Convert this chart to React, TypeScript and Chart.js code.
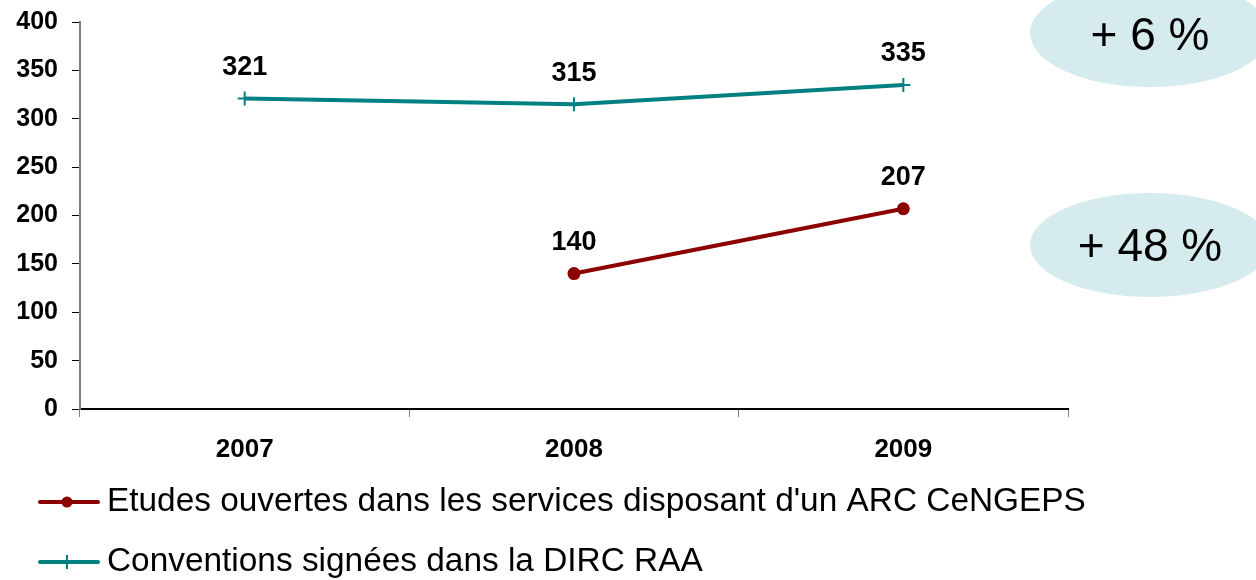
import React, { useEffect, useRef } from "react";
import { Chart, registerables } from "chart.js";

Chart.register(...registerables);

const categories = ["2007", "2008", "2009"];
const etudes: (number | null)[] = [null, 140, 207];
const conventions: number[] = [321, 315, 335];
const seriesNames = [
  "Etudes ouvertes dans les services disposant d'un ARC CeNGEPS",
  "Conventions signées dans la DIRC RAA",
];
const badges = ["+ 6 %", "+ 48 %"];
const yTicks = [0, 50, 100, 150, 200, 250, 300, 350, 400];

const FONT = "'Liberation Sans', Arial, sans-serif";

const labelPlugin = {
  id: "valueLabels",
  afterDatasetsDraw(chart: any) {
    const ctx = chart.ctx;
    ctx.save();
    ctx.font = `bold 27px ${FONT}`;
    ctx.fillStyle = "#000";
    ctx.textAlign = "center";
    ctx.textBaseline = "middle";
    chart.data.datasets.forEach((ds: any, i: number) => {
      const meta = chart.getDatasetMeta(i);
      meta.data.forEach((pt: any, j: number) => {
        const v = ds.data[j];
        if (v == null) return;
        ctx.fillText(String(v), pt.x, pt.y - 31);
      });
    });
    ctx.restore();
  },
};

const extrasPlugin = {
  id: "extras",
  afterDraw(chart: any) {
    const ctx = chart.ctx;
    ctx.save();
    const ellipses = [
      { x: 1150, y: 33, rx: 120, ry: 54, tx: 1150, ty: 37 },
      { x: 1150, y: 245, rx: 120, ry: 52, tx: 1150, ty: 248 },
    ];
    ellipses.forEach((e, i) => {
      ctx.beginPath();
      ctx.ellipse(e.x, e.y, e.rx, e.ry, 0, 0, Math.PI * 2);
      ctx.fillStyle = "#d6ebee";
      ctx.fill();
      ctx.font = `46px ${FONT}`;
      ctx.fillStyle = "#000";
      ctx.textAlign = "center";
      ctx.textBaseline = "middle";
      ctx.fillText(badges[i], e.tx, e.ty);
    });
    const rows = [502, 562];
    chart.data.datasets.forEach((ds: any, i: number) => {
      const y = rows[i];
      ctx.strokeStyle = ds.borderColor;
      ctx.lineWidth = 4;
      ctx.lineCap = "round";
      ctx.beginPath();
      ctx.moveTo(40, y);
      ctx.lineTo(98, y);
      ctx.stroke();
      if (ds.pointStyle === "circle") {
        ctx.beginPath();
        ctx.arc(67, y, 5.5, 0, Math.PI * 2);
        ctx.fillStyle = ds.borderColor;
        ctx.fill();
      } else {
        ctx.lineWidth = 2;
        ctx.lineCap = "butt";
        ctx.beginPath();
        ctx.moveTo(67, y - 7);
        ctx.lineTo(67, y + 7);
        ctx.stroke();
      }
      ctx.font = `33.4px ${FONT}`;
      ctx.fillStyle = "#000";
      ctx.textAlign = "left";
      ctx.textBaseline = "middle";
      ctx.fillText(seriesNames[i], 107, y);
    });
    ctx.restore();
  },
};

export default function App() {
  const ref = useRef<HTMLCanvasElement>(null);
  useEffect(() => {
    if (!ref.current) return;
    const chart = new Chart(ref.current, {
      type: "line",
      data: {
        labels: categories,
        datasets: [
          {
            label: seriesNames[0],
            data: etudes,
            borderColor: "#8b0000",
            backgroundColor: "#8b0000",
            borderWidth: 4,
            pointStyle: "circle",
            pointRadius: 6.5,
            pointBorderWidth: 0,
            pointBackgroundColor: "#8b0000",
            spanGaps: false,
          },
          {
            label: seriesNames[1],
            data: conventions,
            borderColor: "#008080",
            backgroundColor: "#008080",
            borderWidth: 4,
            pointStyle: "cross",
            pointRadius: 7,
            pointBorderWidth: 2,
            pointBorderColor: "#008080",
          },
        ],
      },
      plugins: [labelPlugin, extrasPlugin],
      options: {
        responsive: false,
        animation: false,
        layout: { padding: { left: 0, top: 22, right: 188, bottom: 111 } },
        plugins: {
          legend: { display: false },
          tooltip: { enabled: false },
        },
        scales: {
          x: {
            offset: true,
            grid: {
              offset: true,
              drawOnChartArea: false,
              drawTicks: true,
              tickLength: 8,
              color: "#808080",
            },
            border: { color: "#000", width: 2 },
            ticks: {
              color: "#000",
              font: { family: FONT, size: 26, weight: "bold" },
              padding: 17,
              maxRotation: 0,
            },
            afterFit(scale: any) {
              scale.height = 60;
              scale.paddingLeft = 0;
              scale.paddingRight = 0;
            },
          },
          y: {
            min: 0,
            max: 400,
            afterBuildTicks(scale: any) {
              scale.ticks = yTicks.map((v) => ({ value: v }));
            },
            grid: {
              drawOnChartArea: false,
              drawTicks: true,
              tickLength: 8,
              color: "#000",
            },
            border: { color: "#808080", width: 2 },
            ticks: {
              color: "#000",
              font: { family: FONT, size: 25, weight: "bold" },
              padding: 14,
            },
            afterFit(scale: any) {
              scale.width = 80;
              scale.paddingTop = 0;
              scale.paddingBottom = 0;
            },
          },
        },
      },
    });
    return () => chart.destroy();
  }, []);
  return (
    <div style={{ position: "absolute", left: 0, top: 0, width: 1256, height: 580, background: "#fff" }}>
      <canvas ref={ref} width={1256} height={580} />
    </div>
  );
}
